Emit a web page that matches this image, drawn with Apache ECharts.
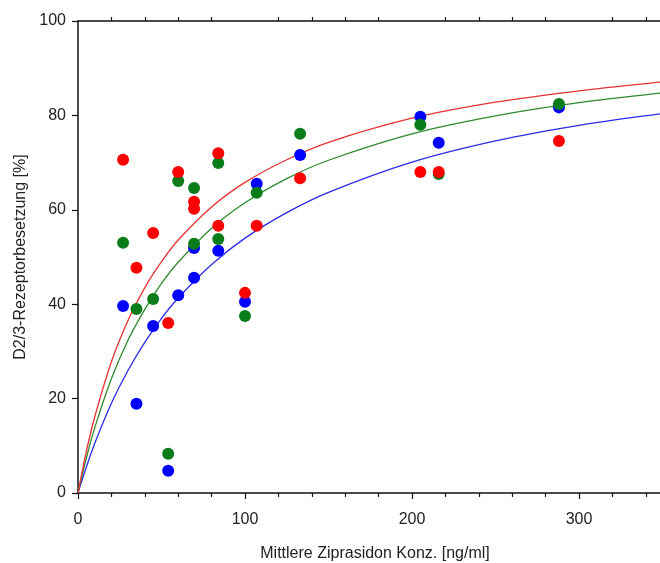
<!DOCTYPE html>
<html>
<head>
<meta charset="utf-8">
<script src="https://cdn.jsdelivr.net/npm/echarts@6/dist/echarts.min.js"></script>
<style>
  html, body { margin: 0; padding: 0; background: #fff; }
  #chart { width: 660px; height: 563px; }
</style>
</head>
<body>
<div id="chart"></div>
<script>
// measured points [concentration ng/ml, occupancy %]
const bluePoints = [
  [27, 39.6], [35, 18.9], [45, 35.4], [54, 4.7], [60, 41.9], [69.5, 45.6], [69.5, 51.9],
  [84, 51.3], [100, 40.5], [107, 65.5], [133, 71.6], [205, 79.7], [216, 74.2], [288, 81.7]
];
const greenPoints = [
  [27, 53.0], [35, 39.0], [45, 41.1], [54, 8.3], [60, 66.1], [69.5, 64.6], [69.5, 52.8],
  [84, 69.9], [84, 53.8], [100, 37.5], [107, 63.6], [133, 76.1], [205, 78.0], [216, 67.6], [288, 82.4]
];
const redPoints = [
  [27, 70.6], [35, 47.7], [45, 55.1], [54, 36.0], [60, 68.0], [69.5, 61.7], [69.5, 60.2],
  [84, 72.0], [84, 56.6], [100, 42.4], [107, 56.6], [133, 66.7], [205, 68.0], [216, 68.0], [288, 74.6]
];

// fitted curves
const curveX   = [0, 5, 10, 20, 30, 40, 50, 60, 80, 100, 125, 150, 200, 250, 300, 350, 360];
const redFit   = [0, 8.8, 16.1, 27.8, 36.6, 43.5, 49.0, 53.6, 60.6, 65.8, 70.6, 74.3, 79.4, 82.8, 85.2, 87.1, 87.4];
const greenFit = [0, 7.4, 13.8, 24.2, 32.4, 38.9, 44.4, 48.9, 56.1, 61.5, 66.6, 70.5, 76.1, 79.9, 82.7, 84.8, 85.2];
const blueFit  = [0, 5.5, 10.5, 19.0, 26.0, 31.9, 37.0, 41.3, 48.4, 54.0, 59.4, 63.7, 70.1, 74.6, 77.9, 80.4, 80.8];

const xTicks = [0, 100, 200, 300];
const yTicks = [0, 20, 40, 60, 80, 100];

const font = '"Liberation Sans", Arial, sans-serif';
const pair = (ys) => curveX.map((x, i) => [x, ys[i]]);

const chart = echarts.init(document.getElementById('chart'));

const curve = (data, color) => ({
  type: 'line',
  data: pair(data),
  smooth: 0.35,
  showSymbol: false,
  symbol: 'none',
  silent: true,
  lineStyle: { color: color, width: 1.3 },
  z: 2
});

const dots = (data, color, z) => ({
  type: 'scatter',
  data: data,
  symbolSize: 12,
  itemStyle: { color: color, opacity: 1 },
  z: z
});

chart.setOption({
  animation: false,
  backgroundColor: '#fff',
  title: {
    text: 'Mittlere Ziprasidon Konz. [ng/ml]',
    left: 370,
    top: 541,
    textAlign: 'center',
    textStyle: { fontFamily: font, fontSize: 16, fontWeight: 'normal', color: '#222' }
  },
  // plot runs past the right edge of the canvas, as in the original
  grid: { left: 78, top: 21, width: 668, height: 472, outerBoundsMode: 'none', containLabel: false },
  xAxis: [
    {
      type: 'value',
      position: 'bottom',
      min: 0,
      max: 400,
      interval: 100,
      axisLine: { onZero: false, lineStyle: { color: '#111', width: 1.5 } },
      axisTick: { length: 6, lineStyle: { color: '#111', width: 1.2 } },
      minorTick: { show: true, splitNumber: 5, length: 4, lineStyle: { color: '#111', width: 1.2 } },
      axisLabel: {
        margin: 19,
        fontFamily: font,
        fontSize: 16,
        color: '#222',
        formatter: (v) => (xTicks.indexOf(v) >= 0 ? String(v) : '')
      },
      splitLine: { show: false }
    },
    {
      type: 'value',
      position: 'top',
      min: 0,
      max: 400,
      interval: 100,
      axisLine: { onZero: false, lineStyle: { color: '#111', width: 1.5 } },
      axisTick: { show: false },
      minorTick: { show: true, splitNumber: 5, length: 4, lineStyle: { color: '#111', width: 1.2 } },
      axisLabel: { show: false },
      splitLine: { show: false }
    }
  ],
  yAxis: {
    type: 'value',
    min: 0,
    max: 100,
    interval: 20,
    name: 'D2/3-Rezeptorbesetzung [%]',
    nameLocation: 'middle',
    nameGap: 47,
    nameTextStyle: { fontFamily: font, fontSize: 16, color: '#222' },
    axisLine: { show: true, onZero: false, lineStyle: { color: '#111', width: 1.5 } },
    axisTick: { show: true, length: 6, lineStyle: { color: '#111', width: 1.2 } },
    axisLabel: {
      margin: 12,
      fontFamily: font,
      fontSize: 16,
      color: '#222',
      formatter: (v) => (yTicks.indexOf(v) >= 0 ? String(v) : '')
    },
    splitLine: { show: false }
  },
  series: [
    curve(blueFit, '#2b2be6'),
    curve(greenFit, '#2f8a2f'),
    curve(redFit, '#e63232'),
    dots(bluePoints, '#0000ff', 3),
    dots(greenPoints, '#0a7d1a', 4),
    dots(redPoints, '#ff0000', 5)
  ]
});
</script>
</body>
</html>
